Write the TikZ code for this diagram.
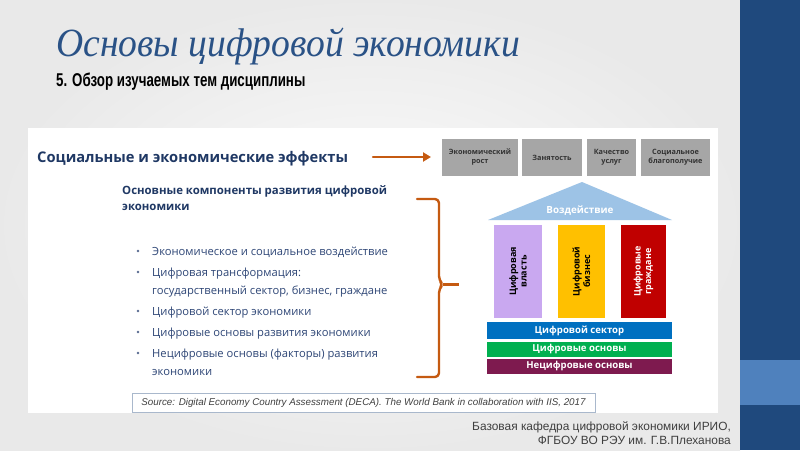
\documentclass[tikz,border=0pt]{standalone}
\usepackage{fontspec}
\setmainfont{Open Sans}
\newfontfamily\titlefont{Liberation Serif}
\newfontfamily\narrowfont[FakeStretch=0.72]{Liberation Sans}
\newfontfamily\arialfont{Liberation Sans}
\usetikzlibrary{arrows.meta}
\definecolor{bandblue}{HTML}{1F497D}
\definecolor{bandlight}{HTML}{4F81BD}
\definecolor{titleblue}{HTML}{2A5286}
\definecolor{navy}{HTML}{1F3864}
\definecolor{textnavy}{HTML}{2E4676}
\definecolor{orangec}{HTML}{C55A11}
\definecolor{boxgray}{HTML}{A6A6A6}
\definecolor{roofblue}{HTML}{9DC3E6}
\definecolor{lavender}{HTML}{C9A8F0}
\definecolor{goldc}{HTML}{FFC000}
\definecolor{redc}{HTML}{C00000}
\definecolor{sectorblue}{HTML}{0070C0}
\definecolor{greenc}{HTML}{00B050}
\definecolor{maroon}{HTML}{7E1A4F}
\definecolor{footgray}{HTML}{3F3F3F}
\definecolor{srcborder}{HTML}{A9B8CC}
\begin{document}
\begin{tikzpicture}[x=1pt,y=-1pt,
  effectbox/.style={fill=boxgray,draw=none,inner sep=0pt,font=\bfseries\fontsize{7.3}{9}\selectfont,text=black!80,align=center},
  pillartext/.style={rotate=90,font=\bfseries\fontsize{9}{10.5}\selectfont,align=center},
  bar/.style={draw=none,inner sep=0pt,text=white,font=\bfseries\fontsize{9.6}{11}\selectfont},
  bullettext/.style={anchor=base west,inner sep=0pt,text=textnavy,font=\fontsize{11.2}{13}\selectfont},
  headtext/.style={anchor=base west,inner sep=0pt,text=navy,font=\bfseries\fontsize{11.4}{14}\selectfont},
  bulletdot/.style={circle,fill=textnavy!80,inner sep=0pt,minimum size=2.6pt},
  orangeline/.style={draw=orangec,line width=2.4pt,line cap=round,line join=round}
]
\useasboundingbox (0,0) rectangle (800,450);
% background
\shade[inner color=gray!3,outer color=gray!17] (0,0) rectangle (740,450);
\fill[bandblue] (740,0) rectangle (800,450);
\fill[bandlight] (740,360) rectangle (800,405);
% title
\node[anchor=base west,inner sep=0pt,text=titleblue] (title) at (56,56)
  {\titlefont\itshape\fontsize{40}{44}\selectfont\scalebox{0.94}[1]{Основы цифровой экономики}};
\node[anchor=base west,inner sep=0pt,text=black] (subtitle) at (56,86)
  {\narrowfont\bfseries\fontsize{18.5}{20}\selectfont 5. Обзор изучаемых тем дисциплины};
% white panel
\fill[white] (28,128) rectangle (718,413);
% effects heading
\node[anchor=base west,inner sep=0pt,text=navy,font=\bfseries\fontsize{14.7}{17}\selectfont] (effects) at (37,162.5)
  {Социальные и экономические эффекты};
\coordinate (arrS) at (373,157);
\coordinate (arrE) at (431,157);
\draw[orangeline,-{Triangle[length=8pt,width=9pt]}] (arrS) -- (arrE);
% effect boxes
\node[effectbox,minimum width=76pt,minimum height=37pt] (e1) at (480,157.5) {Экономический\\рост};
\node[effectbox,minimum width=60pt,minimum height=37pt] (e2) at (552,157.5) {Занятость};
\node[effectbox,minimum width=49pt,minimum height=37pt] (e3) at (611.5,157.5) {Качество\\услуг};
\node[effectbox,minimum width=69pt,minimum height=37pt] (e4) at (675.5,157.5) {Социальное\\благополучие};
% components heading
\node[headtext] (comp1) at (122,194) {Основные компоненты развития цифровой};
\node[headtext] (comp2) at (122,210.5) {экономики};
% bullets
\node[bullettext] (b1) at (152,255) {Экономическое и социальное воздействие};
\node[bullettext] (b2) at (152,276) {Цифровая трансформация:};
\node[bullettext] (b2b) at (152,294) {государственный сектор, бизнес, граждане};
\node[bullettext] (b3) at (152,315) {Цифровой сектор экономики};
\node[bullettext] (b4) at (152,336) {Цифровые основы развития экономики};
\node[bullettext] (b5) at (152,357) {Нецифровые основы (факторы) развития};
\node[bullettext] (b5b) at (152,375) {экономики};
\foreach \y in {251,272,311,332,353} \node[bulletdot] at (138,\y) {};
% brace
\draw[orangeline,rounded corners=4pt] (417,199) -- (439,199) -- (439,280) -- (443,284.5) -- (439,289) -- (439,377) -- (417,377);
\coordinate (bracetip) at (443,284.5);
\coordinate (tickend) at (459,284.5);
\draw[orangec,line width=2.4pt] (bracetip) -- (tickend);
% roof
\fill[roofblue] (488,220) -- (582,182) -- (672,220) -- cycle;
\node[text=white,font=\bfseries\fontsize{9.8}{11}\selectfont,inner sep=0pt] (roof) at (580,211) {Воздействие};
% pillars
\fill[lavender] (494,225) rectangle (542,318);
\fill[goldc] (558,225) rectangle (605,318);
\fill[redc] (621,225) rectangle (666,318);
\node[pillartext,text=black] (p1) at (518,271.5) {Цифровая\\власть};
\node[pillartext,text=black] (p2) at (581.5,271.5) {Цифровой\\бизнес};
\node[pillartext,text=white] (p3) at (643.5,271.5) {Цифровые\\граждане};
% bars
\node[bar,fill=sectorblue,minimum width=185pt,minimum height=17pt] (s1) at (579.5,330.5) {Цифровой сектор};
\node[bar,fill=greenc,minimum width=185pt,minimum height=15pt] (s2) at (579.5,349.5) {Цифровые основы};
\node[bar,fill=maroon,minimum width=185pt,minimum height=15pt] (s3) at (579.5,366) {Нецифровые основы};
% source box
\node[draw=srcborder,line width=0.8pt,fill=white,minimum width=463pt,minimum height=19pt,inner sep=0pt,text=black!75,font=\arialfont\itshape\fontsize{9.8}{11}\selectfont] (src) at (363.5,402.5)
  {Source: Digital Economy Country Assessment (DECA). The World Bank in collaboration with IIS, 2017};
% footer
\node[anchor=north east,inner sep=0pt,align=right,text=footgray,font=\arialfont\fontsize{11.9}{14}\selectfont] (foot) at (731,421)
  {Базовая кафедра цифровой экономики ИРИО,\\ФГБОУ ВО РЭУ им. Г.В.Плеханова};
\end{tikzpicture}
\end{document}
